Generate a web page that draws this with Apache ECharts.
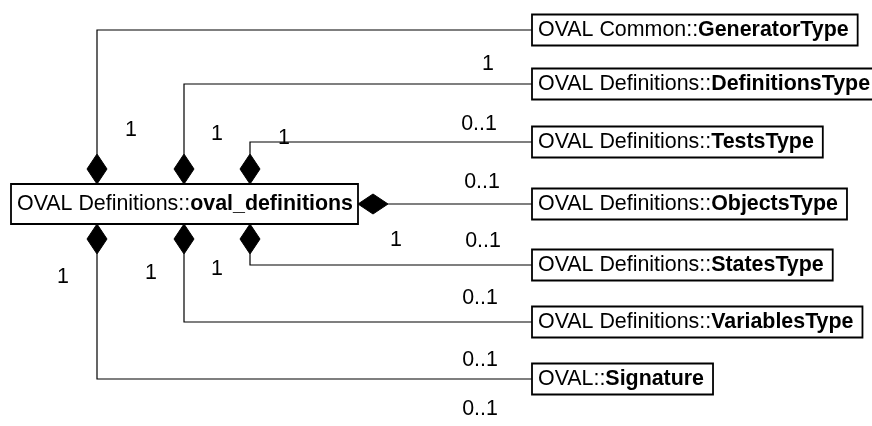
<!DOCTYPE html>
<html>
<head>
<meta charset="utf-8">
<script src="https://cdn.jsdelivr.net/npm/echarts@6/dist/echarts.min.js"></script>
<style>
  html, body { margin: 0; padding: 0; background: #fff; }
  #chart { width: 872px; height: 426px; }
</style>
</head>
<body>
<div id="chart"></div>
<script>
// ---- data ----
const rootPackage = 'OVAL Definitions::';
const rootName = 'oval_definitions';
const packages = ['OVAL Common::', 'OVAL Definitions::', 'OVAL Definitions::', 'OVAL Definitions::',
  'OVAL Definitions::', 'OVAL Definitions::', 'OVAL::'];
const typeNames = ['GeneratorType', 'DefinitionsType', 'TestsType', 'ObjectsType',
  'StatesType', 'VariablesType', 'Signature'];
const wholeMultiplicity = ['1', '1', '1', '1', '1', '1', '1'];
const partMultiplicity = ['1', '0..1', '0..1', '0..1', '0..1', '0..1', '0..1'];

// ---- layout (data units = pixels, y grows downward) ----
const rootBox = { x0: 11, x1: 358, y0: 184, y1: 224 };
const classLeft = 532;
const classRows = [30, 84, 142, 204, 265, 322, 379];
const classHeight = 31;
const anchorSide = ['top', 'top', 'top', 'right', 'bottom', 'bottom', 'bottom'];
const anchorX = [97, 184, 250, 0, 250, 184, 97];
const wholeLabelPos = [[131, 130], [217, 134], [284, 138], [396, 240], [217, 269], [151, 273], [63, 277]];
const partLabelPos = [[488, 64], [479, 124], [482, 182], [483, 241], [480, 298], [480, 360], [480, 409]];

const FONT = '"Liberation Sans", Arial, sans-serif';
const FS = 21.4;

const measure = (() => {
  const ctx = document.createElement('canvas').getContext('2d');
  return (txt, bold) => {
    ctx.font = (bold ? 'bold ' : '') + FS + 'px ' + FONT;
    return ctx.measureText(txt).width;
  };
})();

const rich = {
  r: { fontFamily: FONT, fontSize: FS, color: '#000' },
  b: { fontFamily: FONT, fontSize: FS, color: '#000', fontWeight: 'bold' }
};

const chart = echarts.init(document.getElementById('chart'));

function classBox(api, pkg, name, x0, yc, h) {
  const w = 9 + measure(pkg, false) + measure(name, true) + 6;
  const p0 = api.coord([x0, yc - h / 2]);
  const p1 = api.coord([x0 + w, yc + h / 2]);
  return {
    type: 'group',
    children: [
      { type: 'rect', shape: { x: p0[0], y: p0[1], width: p1[0] - p0[0], height: p1[1] - p0[1] },
        style: { fill: '#fff', stroke: '#000', lineWidth: 1.8 } },
      { type: 'text', x: p0[0] + 6, y: (p0[1] + p1[1]) / 2 + 0.5,
        style: { text: '{r|' + pkg + '}{b|' + name + '}', rich: rich, verticalAlign: 'middle', align: 'left' } }
    ]
  };
}

const option = {
  animation: false,
  grid: { left: 0, right: 0, top: 0, bottom: 0 },
  xAxis: { type: 'value', min: 0, max: 872, show: false },
  yAxis: { type: 'value', min: 0, max: 426, inverse: true, show: false },
  series: [
    {
      // composition associations
      type: 'custom',
      data: typeNames.map((n, i) => [i]),
      renderItem: (params, api) => {
        const i = params.dataIndex;
        const side = anchorSide[i];
        const row = classRows[i];
        let pts, dia;
        if (side === 'top') {
          const x = anchorX[i], y = rootBox.y0;
          dia = [[x, y], [x - 10, y - 15], [x, y - 30], [x + 10, y - 15]];
          pts = [[x, y - 30], [x, row], [classLeft, row]];
        } else if (side === 'bottom') {
          const x = anchorX[i], y = rootBox.y1;
          dia = [[x, y], [x - 10, y + 15], [x, y + 30], [x + 10, y + 15]];
          pts = [[x, y + 30], [x, row], [classLeft, row]];
        } else {
          const x = rootBox.x1, y = row;
          dia = [[x, y], [x + 15, y - 10], [x + 30, y], [x + 15, y + 10]];
          pts = [[x + 30, y], [classLeft, row]];
        }
        return {
          type: 'group',
          children: [
            { type: 'polyline', shape: { points: pts.map(p => api.coord(p)) },
              style: { stroke: '#000', lineWidth: 1.2, fill: null } },
            { type: 'polygon', shape: { points: dia.map(p => api.coord(p)) },
              style: { fill: '#000', stroke: '#000', lineWidth: 1 } }
          ]
        };
      },
      z: 1
    },
    {
      // class boxes
      type: 'custom',
      data: typeNames.map((n, i) => [i]),
      renderItem: (params, api) => {
        const i = params.dataIndex;
        return classBox(api, packages[i], typeNames[i], classLeft, classRows[i], classHeight);
      },
      z: 2
    },
    {
      // root class
      type: 'custom',
      data: [[0]],
      renderItem: (params, api) => {
        const g = classBox(api, rootPackage, rootName, rootBox.x0, (rootBox.y0 + rootBox.y1) / 2,
          rootBox.y1 - rootBox.y0);
        const p0 = api.coord([rootBox.x0, rootBox.y0]);
        const p1 = api.coord([rootBox.x1, rootBox.y1]);
        g.children[0].shape.width = p1[0] - p0[0];
        return g;
      },
      z: 2
    },
    {
      // multiplicities
      type: 'custom',
      data: typeNames.map((n, i) => [i]),
      renderItem: (params, api) => {
        const i = params.dataIndex;
        const a = api.coord(wholeLabelPos[i]);
        const b = api.coord(partLabelPos[i]);
        const st = (t) => ({ text: t, fontFamily: FONT, fontSize: FS, fill: '#000',
          align: 'center', verticalAlign: 'middle' });
        return {
          type: 'group',
          children: [
            { type: 'text', x: a[0], y: a[1], style: st(wholeMultiplicity[i]) },
            { type: 'text', x: b[0], y: b[1], style: st(partMultiplicity[i]) }
          ]
        };
      },
      z: 3
    }
  ]
};

chart.setOption(option);
window.addEventListener('resize', () => chart.resize());
</script>
</body>
</html>
